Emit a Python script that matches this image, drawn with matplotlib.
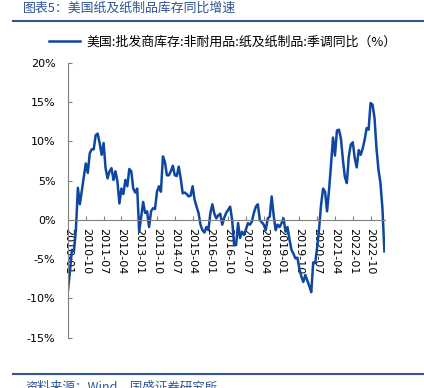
import matplotlib.pyplot as plt
from matplotlib.lines import Line2D

plt.rcParams['font.family'] = ['DejaVu Sans', 'Noto Sans CJK SC']

# monthly series, 2010-01 .. 2023-05 (%)
values = [
    -8.9, -6.5, -3.8, -4.0, -1.2, 4.1, 2.0, 3.8, 5.5, 7.2,
    6.0, 8.5, 9.0, 9.0, 10.8, 11.0, 9.8, 8.3, 9.8, 6.6,
    5.3, 6.2, 6.6, 5.1, 6.2, 4.9, 2.1, 4.0, 3.3, 5.1,
    4.3, 6.5, 6.2, 4.0, 3.5, 4.0, -1.5, 0.4, 2.3, 0.9,
    1.1, -0.9, 1.1, 1.5, 1.4, 3.6, 4.3, 3.6, 8.1, 7.4,
    5.7, 5.7, 6.2, 6.9, 5.7, 5.6, 6.8, 5.3, 3.4, 3.5,
    3.3, 3.0, 3.1, 4.3, 2.6, 1.7, 0.9, -0.6, -1.3, -1.6,
    -0.9, -1.3, 0.9, 2.0, 0.8, 0.2, 0.6, 0.8, -0.6, 0.3,
    0.9, 1.3, 1.7, 0.0, -3.2, -3.2, -0.4, -2.3, -1.5, -1.9,
    -1.2, -0.4, -0.6, -0.2, 0.9, 1.7, 2.0, 0.0, -0.3, -0.6,
    -1.3, 0.2, 0.4, 3.0, 0.6, -1.3, -0.6, -0.9, -0.4, 0.2,
    -1.5, -0.9, -2.5, -3.8, -4.3, -4.9, -4.8, -6.2, -7.2, -7.9,
    -7.0, -7.7, -8.4, -9.2, -5.4, -5.5, -3.5, -1.0, 2.0, 4.0,
    3.6, 1.1, 3.8, 7.0, 10.5, 8.2, 11.4, 11.5, 10.4, 7.7,
    5.5, 4.7, 8.1, 9.6, 9.9, 7.9, 6.7, 8.9, 8.3, 9.1,
    10.2, 11.7, 11.5, 14.9, 14.7, 13.0, 9.1, 6.4, 4.7, 1.5,
    -4.0,
]
months = []
for i in range(len(values)):
    months.append(f'{2010 + i // 12}-{i % 12 + 1:02d}')

tick_pos = list(range(0, len(values), 9))
tick_labels = [months[i] for i in tick_pos]
y_ticks = [-15, -10, -5, 0, 5, 10, 15, 20]

series_name = '美国:批发商库存:非耐用品:纸及纸制品:季调同比（%）'
title = '图表5：美国纸及纸制品库存同比增速'
source = '资料来源：Wind，国盛证券研究所'

line_color = '#0D47A1'
blue = '#2F5597'

fig = plt.figure(figsize=(4.24, 3.88), dpi=100)
ax = fig.add_axes([68 / 424, 1 - 337.7 / 388, (385 - 68) / 424, (337.7 - 63) / 388])

# spines first: set_position resets the ticks
for s in ['top', 'right']:
    ax.spines[s].set_visible(False)
ax.spines['bottom'].set_position(('data', 0))
ax.spines['bottom'].set_color('#808080')
ax.spines['left'].set_color('#808080')

ax.plot(range(len(values)), values, color=line_color, lw=1.8)

ax.set_xlim(0, 160.3)
ax.set_ylim(-15, 20)
ax.tick_params(axis='both', direction='in', length=3, color='#808080',
               labelsize=8, labelcolor='black')
ax.tick_params(axis='y', pad=9)
ax.tick_params(axis='x', pad=6)
ax.set_yticks(y_ticks)
ax.set_yticklabels([f'{v}%' for v in y_ticks])
ax.set_xticks(tick_pos)
ax.set_xticklabels(tick_labels, rotation=270, ha='center', va='top')

handle = Line2D([], [], color=line_color, lw=1.8)
fig.legend([handle], [series_name], loc='center', bbox_to_anchor=(223 / 424, 1 - 42 / 388),
           frameon=False, handlelength=2.4, handletextpad=0.5,
           prop={'family': ['Noto Sans CJK SC', 'DejaVu Sans'], 'size': 9.3})

# header and footer
fig.text(23 / 424, 1 - 8 / 388, title, color=blue, fontsize=9.3, style='italic',
         family=['Noto Sans CJK SC', 'DejaVu Sans'], va='center', ha='left')
fig.add_artist(Line2D([13 / 424, 1], [1 - 21 / 388] * 2, color=blue, lw=1.5))
fig.add_artist(Line2D([13 / 424, 1], [1 - 374 / 388] * 2, color=blue, lw=1.5))
fig.text(25 / 424, 1 - 381 / 388, source, color=blue, fontsize=9, style='italic',
         family=['Noto Sans CJK SC', 'DejaVu Sans'], va='top', ha='left')

fig.savefig('out.png', dpi=100)
